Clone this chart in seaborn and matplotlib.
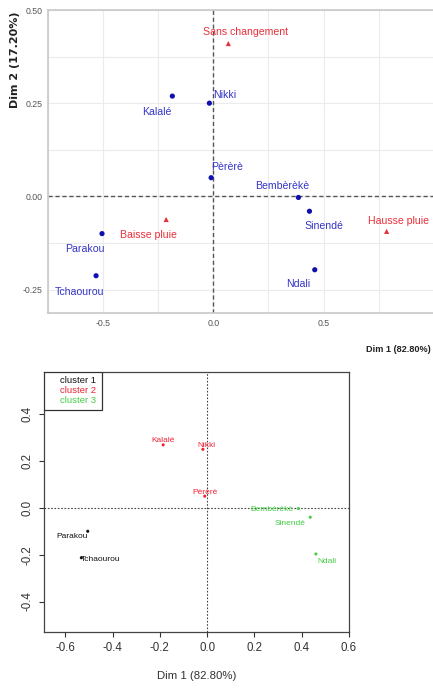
import matplotlib
matplotlib.use("Agg")
import matplotlib.pyplot as plt
import matplotlib.patches as mpatches
import seaborn as sns
import pandas as pd
import numpy as np

# ---- data -----------------------------------------------------------------
communes = ["Kalalé", "Nikki", "Pèrèrè", "Bembèrèkè", "Sinendé", "Ndali", "Parakou", "Tchaourou"]
dim1_rows = [-0.186, -0.018, -0.010, 0.386, 0.436, 0.460, -0.505, -0.532]
dim2_rows = [0.269, 0.250, 0.050, -0.003, -0.040, -0.197, -0.100, -0.213]

modalities = ["Sans changement", "Baisse pluie", "Hausse pluie"]
dim1_cols = [0.068, -0.214, 0.786]
dim2_cols = [0.410, -0.062, -0.094]

clusters = ["cluster 2", "cluster 2", "cluster 2", "cluster 3", "cluster 3", "cluster 3", "cluster 1", "cluster 1"]
cluster_names = ["cluster 1", "cluster 2", "cluster 3"]

top_xticks = [-0.5, 0.0, 0.5]
top_yticks = [-0.25, 0.0, 0.25, 0.50]
bot_xticks = [-0.6, -0.4, -0.2, 0.0, 0.2, 0.4, 0.6]
bot_yticks = [-0.4, -0.2, 0.0, 0.2, 0.4]

xlab = "Dim 1 (82.80%)"
ylab = "Dim 2 (17.20%)"

rows = pd.DataFrame({"label": communes, "x": dim1_rows, "y": dim2_rows, "cluster": clusters})
cols = pd.DataFrame({"label": modalities, "x": dim1_cols, "y": dim2_cols})

# ---- styling ---------------------------------------------------------------
sns.set_theme(style="white")
arial = ["Liberation Sans", "DejaVu Sans"]
plt.rcParams["font.family"] = arial

BLUE_PT = "#1010b0"
BLUE_TX = "#3434c8"
RED = "#e8303a"
palette = {"cluster 1": "#111111", "cluster 2": "#ee2233", "cluster 3": "#44cc44"}

W, H = 433, 689
fig = plt.figure(figsize=(W / 100, H / 100), dpi=100)
fig.patch.set_facecolor("white")


def box(l, t, r, b):
    return [l / W, 1 - b / H, (r - l) / W, (b - t) / H]


# ---- top panel: CA biplot ----------------------------------------------------
ax1 = fig.add_axes(box(48, 10, 436, 313))
ax1.set_xlim(-0.75, 1.01)
ax1.set_ylim(-0.313, 0.50)
for v in np.arange(-0.75, 1.01, 0.25):
    ax1.axvline(v, color="#ebebeb", lw=0.8, zorder=0)
for v in np.arange(-0.25, 0.51, 0.125):
    ax1.axhline(v, color="#ebebeb", lw=0.8, zorder=0)
ax1.axhline(0, color="#555555", lw=1.0, ls=(0, (3, 2)), zorder=1)
ax1.axvline(0, color="#555555", lw=1.0, ls=(0, (3, 2)), zorder=1)

sns.scatterplot(data=rows, x="x", y="y", ax=ax1, color=BLUE_PT, s=14,
                edgecolor="none", zorder=3, legend=False)
sns.scatterplot(data=cols, x="x", y="y", ax=ax1, color=RED, marker="^", s=14,
                edgecolor="none", zorder=3, legend=False)

top_offsets = {
    "Kalalé": (-0.07, -0.043), "Nikki": (0.07, 0.022), "Pèrèrè": (0.073, 0.03),
    "Bembèrèkè": (-0.073, 0.03), "Sinendé": (0.064, -0.04), "Ndali": (-0.073, -0.038),
    "Parakou": (-0.077, -0.04), "Tchaourou": (-0.077, -0.043),
    "Sans changement": (0.08, 0.03), "Baisse pluie": (-0.08, -0.043),
    "Hausse pluie": (0.055, 0.027),
}
for _, r in rows.iterrows():
    dx, dy = top_offsets[r["label"]]
    ax1.text(r["x"] + dx, r["y"] + dy, r["label"], color=BLUE_TX, fontsize=7.6,
             ha="center", va="center", zorder=4)
for _, r in cols.iterrows():
    dx, dy = top_offsets[r["label"]]
    ax1.text(r["x"] + dx, r["y"] + dy, r["label"], color=RED, fontsize=7.6,
             ha="center", va="center", zorder=4)

ax1.set_xticks(top_xticks)
ax1.set_xticklabels([f"{v:.1f}" for v in top_xticks], fontsize=6.3, color="#555555")
ax1.set_yticks(top_yticks)
ax1.set_yticklabels([f"{v:.2f}" for v in top_yticks], fontsize=6.3, color="#555555")
ax1.tick_params(length=2, color="#888888", pad=2)
ax1.set_xlabel("")
ax1.set_ylabel("")
for side in ["top", "left", "bottom"]:
    ax1.spines[side].set_color("#c8c8c8")
    ax1.spines[side].set_linewidth(1.2)
ax1.spines["right"].set_visible(False)
fig.text(15 / W, 1 - 60 / H, ylab, rotation=90, fontsize=8, fontweight="bold",
         ha="center", va="center", color="#222222", family=["DejaVu Sans"])
fig.text(431 / W, 1 - 350 / H, xlab, fontsize=6.6, fontweight="bold",
         ha="right", va="center", color="#222222")

# ---- bottom panel: communes coloured by cluster -----------------------------------
ax2 = fig.add_axes(box(44, 372, 349, 632))
ax2.set_xlim(-0.69, 0.60)
ax2.set_ylim(-0.53, 0.58)
ax2.axhline(0, color="#444444", lw=0.8, ls=(0, (1.5, 1.5)), zorder=1)
ax2.axvline(0, color="#444444", lw=0.8, ls=(0, (1.5, 1.5)), zorder=1)

sns.scatterplot(data=rows, x="x", y="y", hue="cluster", palette=palette, ax=ax2,
                s=5, edgecolor="none", zorder=3, legend=False)

bot_offsets = {
    "Kalalé": (0.0, 0.02, "center"), "Nikki": (0.015, 0.017, "center"),
    "Pèrèrè": (0.0, 0.017, "center"), "Bembèrèkè": (-0.02, -0.006, "right"),
    "Sinendé": (-0.02, -0.026, "right"), "Ndali": (0.008, -0.03, "left"),
    "Parakou": (0.0, -0.022, "right"), "Tchaourou": (0.0, -0.008, "left"),
}
for _, r in rows.iterrows():
    dx, dy, ha = bot_offsets[r["label"]]
    ax2.text(r["x"] + dx, r["y"] + dy, r["label"], color=palette[r["cluster"]],
             fontsize=6, ha=ha, va="center", zorder=4)

ax2.set_xticks(bot_xticks)
ax2.set_xticklabels([f"{v:.1f}" for v in bot_xticks], fontsize=8.3, color="#333333")
ax2.set_yticks(bot_yticks)
ax2.set_yticklabels([f"{v:.1f}" for v in bot_yticks], fontsize=8.3, color="#333333",
                    rotation=90, va="center")
ax2.tick_params(length=3.5, width=0.8, color="#333333", pad=4, left=True, bottom=True)
ax2.set_xlabel(xlab, fontsize=8.2, color="#333333", labelpad=12)
ax2.set_ylabel("")
for s in ax2.spines.values():
    s.set_color("#444444")
    s.set_linewidth(0.9)

# legend box in the upper-left corner, labels right-aligned (base R style)
lw_frac = (102 - 44) / (349 - 44)
lh_frac = (410 - 372) / (632 - 372)
ax2.add_patch(mpatches.Rectangle((0, 1 - lh_frac), lw_frac, lh_frac,
                                 transform=ax2.transAxes, facecolor="white",
                                 edgecolor="#333333", lw=0.9, zorder=5))
for i, name in enumerate(cluster_names):
    ypix = 381 + 10 * i
    ax2.text((96 - 44) / (349 - 44), 1 - (ypix - 372) / (632 - 372), name,
             transform=ax2.transAxes, color=palette[name], fontsize=6.8,
             ha="right", va="center", zorder=6)

fig.savefig("out.png", dpi=100)
